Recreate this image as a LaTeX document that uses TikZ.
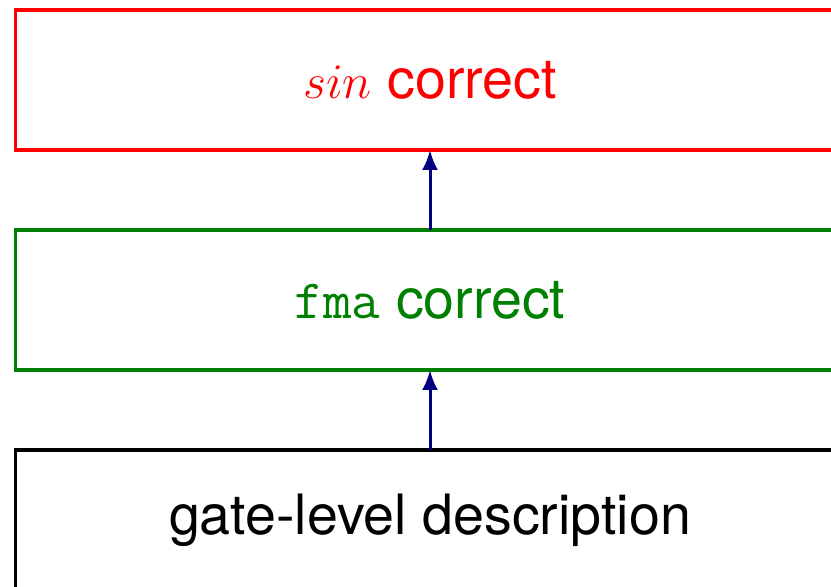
\documentclass[tikz,border=0pt]{standalone}
\usepackage{fontspec}
\setmainfont{TeX Gyre Heros}
\usetikzlibrary{positioning,arrows.meta}
\definecolor{boxgreen}{RGB}{0,128,0}
\definecolor{arrowblue}{RGB}{0,0,128}
\tikzset{
  level/.style={draw,line width=1.7pt,minimum width=414.5pt,minimum height=70pt,
    outer sep=0pt,inner sep=0pt,font=\fontsize{27.8}{32}\selectfont},
  uparrow/.style={arrowblue,line width=1.5pt,-{Latex[length=10pt,width=8pt]}}
}
\begin{document}
\begin{tikzpicture}
  \useasboundingbox[clip] (0,0) rectangle (415.5pt,293.5pt);
  \node[level,black] (gates) at (215pt,33.5pt) {gate-level description};
  \node[level,boxgreen,above=40pt of gates] (fma) {\texttt{fma} correct};
  \node[level,red,above=40pt of fma] (sine) {$sin$ correct};
  \draw[uparrow] (gates) -- (fma);
  \draw[uparrow] (fma) -- (sine);
\end{tikzpicture}
\end{document}
